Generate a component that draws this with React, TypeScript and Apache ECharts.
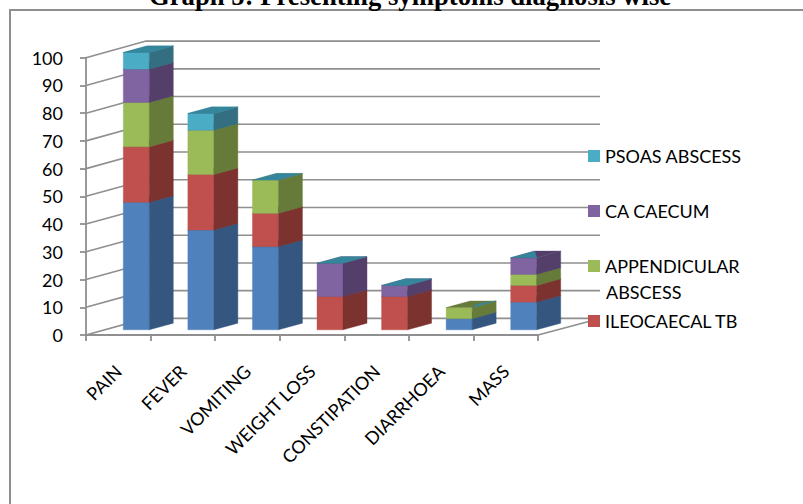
import React, { useEffect, useRef } from "react";
import * as echarts from "echarts";

const categories = ["PAIN", "FEVER", "VOMITING", "WEIGHT LOSS", "CONSTIPATION", "DIARRHOEA", "MASS"];
const unnamedCases = [46, 36, 30, 0, 0, 4, 10];
const ileocaecalTb = [20, 20, 12, 12, 12, 0, 6];
const appendicularAbscess = [16, 16, 12, 0, 0, 4, 4];
const caCaecum = [12, 0, 0, 12, 4, 0, 6];
const psoasAbscess = [6, 6, 0, 0, 0, 0, 0];
const yTicks = [0, 10, 20, 30, 40, 50, 60, 70, 80, 90, 100];

const DIARRHOEA = 5;
const MASS = 6;

const LINE = "#8f8f8f";
const FONT = "Lato";

// Projection of the oblique view, in pixels
const wallDx = 60;
const wallDy = -16.6;
const wallRight = 600;
const barInset = 5;
const barFrontDy = -5.2;
const barWidth = 26;
const depthDx = 24;
const depthDy = -6.6;

const stacks = [
  { name: "SERIES 1", values: unnamedCases, front: "#4f81bd", side: "#34567f", top: "#34567f" },
  { name: "ILEOCAECAL TB", values: ileocaecalTb, front: "#c0504d", side: "#7c322f", top: "#7c322f" },
  { name: "APPENDICULAR ABSCESS", values: appendicularAbscess, front: "#9bbb59", side: "#667b3a", top: "#667b3a" },
  { name: "CA CAECUM", values: caCaecum, front: "#8064a2", side: "#543f6b", top: "#543f6b" },
  { name: "PSOAS ABSCESS", values: psoasAbscess, front: "#4bacc6", side: "#336f80", top: "#35869c" },
];

function polygon(points: number[][], fill: string) {
  return { type: "polygon", shape: { points }, style: { fill, stroke: fill, lineWidth: 0.4 } };
}

function stackSeries() {
  const base = categories.map(() => 0);
  return stacks.map((stack, stackIndex) => {
    const data = stack.values.map((v, i) => {
      const row = [i, base[i], base[i] + v];
      base[i] += v;
      return row;
    });
    return {
      type: "custom",
      name: stack.name,
      z: 5,
      clip: false,
      itemStyle: { color: stack.front },
      encode: { x: 0, y: [1, 2] },
      data,
      renderItem(_params: unknown, api: any) {
        const i = api.value(0);
        const low = api.coord([i, api.value(1)]);
        const high = api.coord([i, api.value(2)]);
        const x0 = low[0] + barInset;
        const x1 = x0 + barWidth;
        const yLow = low[1] + barFrontDy;
        const yHigh = high[1] + barFrontDy;
        const frontLeft = [x0, yHigh];
        const frontRight = [x1, yHigh];
        const backRight = [x1 + depthDx, yHigh + depthDy];
        const backLeft = [x0 + depthDx, yHigh + depthDy];
        const children: unknown[] = [];

        if (api.value(2) > api.value(1)) {
          children.push(
            polygon([[x0, yLow], [x1, yLow], frontRight, frontLeft], stack.front),
            polygon([[x1, yLow], [x1 + depthDx, yLow + depthDy], backRight, frontRight], stack.side),
            polygon([frontLeft, frontRight, backRight, backLeft], stack.top)
          );
        }

        // The last stack has zero height on most bars, so its cap lies on the top face
        if (stackIndex === stacks.length - 1) {
          if (i === MASS) {
            children.push(polygon([frontLeft, frontRight, backLeft], stack.top));
          } else if (i === DIARRHOEA) {
            children.push(
              polygon([frontRight, backRight, [x1 + 6, yHigh + depthDy * 0.6]], stack.top)
            );
          } else {
            children.push(polygon([frontLeft, frontRight, backRight, backLeft], stack.top));
          }
        }
        return { type: "group", children };
      },
    };
  });
}

// Side wall and back wall rulings, one per value tick
const wallSeries = {
  type: "custom",
  name: "wall",
  silent: true,
  z: 1,
  clip: false,
  encode: { y: 0 },
  data: yTicks.map((v) => [v]),
  renderItem(_params: unknown, api: any) {
    const p = api.coord([0, api.value(0)]);
    const left = 86;
    return {
      type: "polyline",
      shape: {
        points: [
          [left, p[1]],
          [left + wallDx, p[1] + wallDy],
          [wallRight, p[1] + wallDy],
        ],
      },
      style: { stroke: LINE, lineWidth: 1.6, fill: "none" },
    };
  },
};

// Floor edge running back from the end of the category axis
const floorSeries = {
  type: "custom",
  name: "floor",
  silent: true,
  z: 1,
  clip: false,
  encode: { y: 0 },
  data: [[0]],
  renderItem(_params: unknown, api: any) {
    const p = api.coord([categories.length - 1, api.value(0)]);
    const end = p[0] + 32.3;
    return {
      type: "line",
      shape: { x1: end, y1: p[1], x2: wallRight, y2: p[1] + wallDy },
      style: { stroke: LINE, lineWidth: 1.6 },
    };
  },
};

export default function App() {
  const ref = useRef<HTMLDivElement>(null);

  useEffect(() => {
    const chart = echarts.init(ref.current!, undefined, { renderer: "svg" });
    chart.setOption({
      animation: false,
      backgroundColor: "#ffffff",
      title: {
        text: "Graph 5: Presenting symptoms diagnosis wise",
        left: 149,
        top: -17.5,
        padding: 0,
        textStyle: {
          fontFamily: "Liberation Serif",
          fontWeight: "bold",
          fontSize: 26.7,
          color: "#000000",
        },
      },
      grid: { left: 86, top: 57.7, width: 452, height: 277.3 },
      xAxis: {
        type: "category",
        data: categories,
        axisLine: { lineStyle: { color: LINE, width: 1.8 } },
        axisTick: { show: true, length: 6, lineStyle: { color: LINE, width: 1.8 } },
        axisLabel: {
          interval: 0,
          rotate: 45,
          margin: 33,
          color: "#000000",
          fontFamily: FONT,
          fontSize: 18,
        },
      },
      yAxis: {
        type: "value",
        min: 0,
        max: 100,
        interval: 10,
        splitLine: { show: false },
        axisLine: { show: true, lineStyle: { color: LINE, width: 1.8 } },
        axisTick: { show: true, length: 6, lineStyle: { color: LINE, width: 1.8 } },
        axisLabel: {
          margin: 23,
          padding: [3, 0, 0, 0],
          color: "#000000",
          fontFamily: FONT,
          fontSize: 18,
        },
      },
      legend: {
        orient: "vertical",
        left: 588,
        top: 147,
        padding: 0,
        icon: "rect",
        itemWidth: 12,
        itemHeight: 12,
        itemGap: 37,
        selectedMode: false,
        data: ["PSOAS ABSCESS", "CA CAECUM", "APPENDICULAR ABSCESS", "ILEOCAECAL TB"],
        formatter: (name: string) => (name.startsWith("APP") ? "APPENDICULAR" : name),
        textStyle: {
          color: "#000000",
          fontFamily: FONT,
          fontSize: 18,
        },
      },
      graphic: [
        {
          type: "polyline",
          silent: true,
          z: 0,
          shape: { points: [[10, 504], [10, 10], [803, 10]] },
          style: { stroke: LINE, lineWidth: 2, fill: "none" },
        },
        {
          type: "text",
          silent: true,
          x: 606,
          y: 283,
          style: {
            text: "ABSCESS",
            fill: "#000000",
            fontFamily: FONT,
            fontSize: 18,
          },
        },
      ],
      series: [wallSeries, floorSeries, ...stackSeries()],
    });
    return () => chart.dispose();
  }, []);

  return <div ref={ref} style={{ position: "absolute", left: 0, top: 0, width: 803, height: 504 }} />;
}
